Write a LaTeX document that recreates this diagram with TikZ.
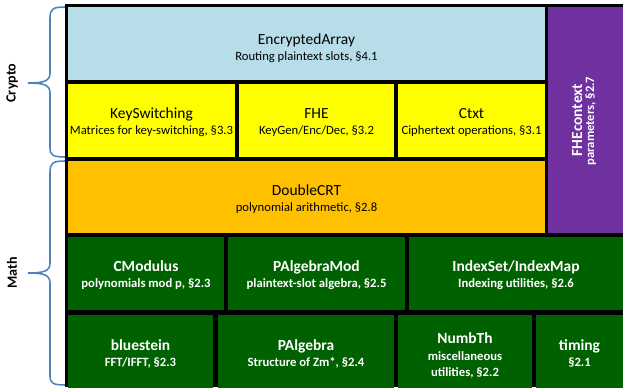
\documentclass[tikz,border=0pt]{standalone}
\usepackage{fontspec}
\setmainfont{Carlito}
\usetikzlibrary{fit}
\definecolor{arrayblue}{RGB}{183,221,232}
\definecolor{cryptoyellow}{RGB}{255,255,0}
\definecolor{crtorange}{RGB}{255,192,0}
\definecolor{contextpurple}{RGB}{112,48,160}
\definecolor{mathgreen}{RGB}{0,97,0}
\definecolor{bracegray}{RGB}{79,129,189}
\tikzset{
  modbox/.style={inner sep=0pt, fill=#1},
  modtitle/.style={anchor=base, yshift=0.05cm, font=\fontsize{11}{13}\selectfont},
  modnote/.style={anchor=base, yshift=-0.35cm, font=\fontsize{9}{11}\selectfont},
  darktext/.style={text=white, execute at begin node=\bfseries},
  brace/.style={bracegray, line width=1.1pt},
  layername/.style={rotate=90, font=\bfseries\fontsize{10}{12}\selectfont}
}
% title and note of a module box
\newcommand{\modlabel}[3]{%
  \node[modtitle] (#1-title) at (#1.center) {#2};
  \node[modnote] (#1-note) at (#1.center) {#3};}

\begin{document}
\begin{tikzpicture}[x=0.025cm, y=-0.025cm]
    \useasboundingbox (0,0) rectangle (623,387);

    % Black frame behind all the modules
    \fill[black] (65,4) rectangle (623,387);

    % Crypto layer
    \node[modbox=arrayblue, fit={(68,7) (545,80)}] (encarray) {};
    \node[modbox=cryptoyellow, fit={(68,84) (235,157)}] (keyswitch) {};
    \node[modbox=cryptoyellow, fit={(239,84) (394,157)}] (fhe) {};
    \node[modbox=cryptoyellow, fit={(398,84) (545,157)}] (ctxt) {};
    \node[modtitle, yshift=-0.075cm] (encarray-title) at (encarray.center) {EncryptedArray};
    \node[modnote, yshift=-0.075cm] (encarray-note) at (encarray.center) {Routing plaintext slots, §4.1};
    \modlabel{keyswitch}{KeySwitching}{Matrices for key-switching, §3.3}
    \modlabel{fhe}{FHE}{KeyGen/Enc/Dec, §3.2}
    \modlabel{ctxt}{Ctxt}{Ciphertext operations, §3.1}

    % Context column
    \node[modbox=contextpurple, fit={(548,7) (623,233)}] (context) {};
    \node[text=white, anchor=base, rotate=90, font=\bfseries\fontsize{11}{13}\selectfont]
        (context-title) at (582,120) {FHEcontext};
    \node[text=white, anchor=base, rotate=90, font=\bfseries\fontsize{9}{11}\selectfont]
        (context-note) at (594,121) {parameters, §2.7};

    % Math layer
    \node[modbox=crtorange, fit={(68,161) (545,233)}] (doublecrt) {};
    \modlabel{doublecrt}{DoubleCRT}{polynomial arithmetic, §2.8}
    \node[modbox=mathgreen, fit={(68,237) (224,310)}] (cmodulus) {};
    \node[modbox=mathgreen, fit={(228,237) (405,310)}] (palgmod) {};
    \node[modbox=mathgreen, fit={(409,237) (623,310)}] (indexset) {};
    \node[modbox=mathgreen, fit={(68,315) (213,390)}] (bluestein) {};
    \node[modbox=mathgreen, fit={(218,315) (394,390)}] (palgebra) {};
    \node[modbox=mathgreen, fit={(398,315) (532,390)}] (numbth) {};
    \node[modbox=mathgreen, fit={(536,315) (623,390)}] (timing) {};
    \begin{scope}[darktext]
        \modlabel{cmodulus}{CModulus}{polynomials mod p, §2.3}
        \modlabel{palgmod}{PAlgebraMod}{plaintext-slot algebra, §2.5}
        \modlabel{indexset}{IndexSet/IndexMap}{Indexing utilities, §2.6}
        \modlabel{bluestein}{bluestein}{FFT/IFFT, §2.3}
        \modlabel{palgebra}{PAlgebra}{Structure of Zm*, §2.4}
        \modlabel{timing}{timing}{§2.1}
        \node[modtitle, yshift=0.175cm] (numbth-title) at (numbth.center) {NumbTh};
        \node[modnote, yshift=0.16cm] (numbth-note) at (numbth.center) {miscellaneous};
        \node[modnote, yshift=-0.245cm] (numbth-note2) at (numbth.center) {utilities, §2.2};
    \end{scope}

    % Layer braces
    \draw[brace] (65,7) .. controls (53,7) and (50,9) .. (50,18) -- (50,73)
        .. controls (50,81) and (44,83) .. (28,83)
        .. controls (44,83) and (50,85) .. (50,93) -- (50,148)
        .. controls (50,155) and (53,157) .. (65,157);
    \draw[brace] (65,161) .. controls (53,161) and (50,163) .. (50,172) -- (50,263)
        .. controls (50,271) and (44,273) .. (28,273)
        .. controls (44,273) and (50,275) .. (50,283) -- (50,376)
        .. controls (50,383) and (53,385) .. (65,385);
    \node[layername] (cryptolbl) at (12,83) {Crypto};
    \node[layername] (mathlbl) at (12,273) {Math};
\end{tikzpicture}
\end{document}
